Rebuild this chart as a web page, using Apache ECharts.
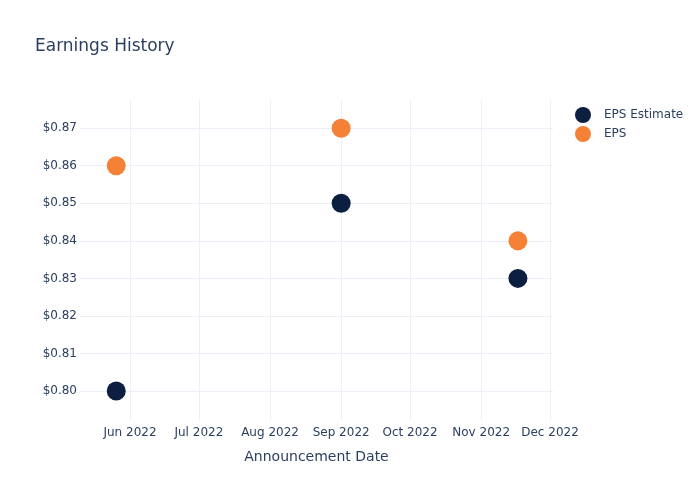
<!DOCTYPE html>
<html><head><meta charset="utf-8">
<script src="https://cdn.jsdelivr.net/npm/echarts@6/dist/echarts.min.js"></script>
<style>html,body{margin:0;padding:0;background:#fff}#c{width:700px;height:500px}</style>
</head><body><div id="c"></div>
<script>
var dates = ['2022-05-26', '2022-09-01', '2022-11-17'];
var epsEstimate = [0.80, 0.85, 0.83];
var eps = [0.86, 0.87, 0.84];
var months = ['Jan','Feb','Mar','Apr','May','Jun','Jul','Aug','Sep','Oct','Nov','Dec'];

var font = 'DejaVu Sans, Verdana, sans-serif';
var txt = '#2a3f5f';
function pairs(vals){ return dates.map(function(d,i){ return [d, vals[i]]; }); }

var chart = echarts.init(document.getElementById('c'), null, {renderer:'canvas'});
chart.setOption({
  animation: false,
  backgroundColor: '#fff',
  title: { text: 'Earnings History', left: 30, top: 33,
    textStyle: { fontFamily: font, fontSize: 17, fontWeight: 'normal', color: txt } },
  legend: { orient: 'vertical', left: 570, top: 102, itemWidth: 30, itemHeight: 16, itemGap: 3,
    icon: 'circle', textStyle: { fontFamily: font, fontSize: 12, color: txt, padding: [0,0,0,1] },
    data: ['EPS Estimate', 'EPS'] },
  grid: { left: 80, right: 147, top: 100, bottom: 80 },
  xAxis: {
    type: 'time',
    min: new Date(2022, 4, 10, 5).getTime(),
    max: new Date(2022, 11, 2, 7).getTime(),
    splitNumber: 7,
    minInterval: 28 * 24 * 3600 * 1000,
    name: 'Announcement Date', nameLocation: 'middle', nameGap: 30,
    nameTextStyle: { fontFamily: font, fontSize: 14, color: txt },
    axisLine: { show: false }, axisTick: { show: false },
    axisLabel: { fontFamily: font, fontSize: 12, color: txt, margin: 7,
      showMinLabel: false, showMaxLabel: false, hideOverlap: false,
      formatter: function(v){ var d = new Date(v); return months[d.getMonth()] + ' ' + d.getFullYear(); } },
    splitLine: { show: true, showMinLine: false, showMaxLine: false, lineStyle: { color: '#ebf0f8', width: 1 } }
  },
  yAxis: {
    type: 'value',
    min: 0.7923, max: 0.8775, splitNumber: 8,
    axisLine: { show: false }, axisTick: { show: false },
    axisLabel: { fontFamily: font, fontSize: 12, color: txt, margin: 3,
      showMinLabel: false, showMaxLabel: false,
      formatter: function(v){ return '$' + v.toFixed(2); } },
    splitLine: { show: true, showMinLine: false, showMaxLine: false, lineStyle: { color: '#ebf0f8', width: 1 } }
  },
  series: [
    { name: 'EPS Estimate', type: 'scatter', symbolSize: 19, data: pairs(epsEstimate),
      itemStyle: { color: '#0c1f40', opacity: 1 } },
    { name: 'EPS', type: 'scatter', symbolSize: 19, data: pairs(eps),
      itemStyle: { color: '#f58137', opacity: 1 } }
  ]
});
</script></body></html>
